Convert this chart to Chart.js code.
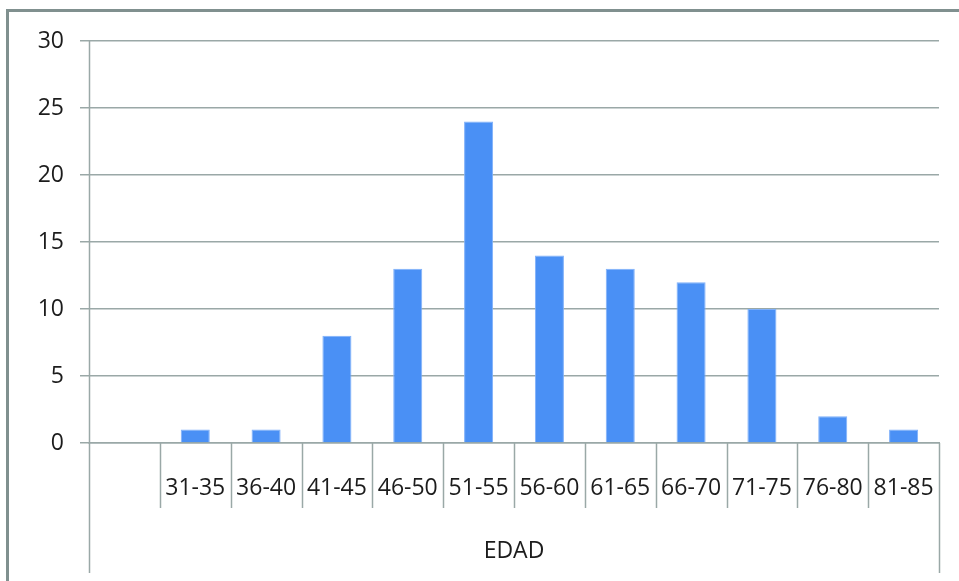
<!DOCTYPE html>
<html>
<head>
<meta charset="utf-8">
<script src="https://cdn.jsdelivr.net/npm/chart.js@4/dist/chart.umd.min.js"></script>
<style>
  html, body { margin: 0; padding: 0; background: #fff; overflow: hidden; }
  #wrap { position: relative; width: 959px; height: 581px; }
  #frame {
    position: absolute; left: 6px; top: 9px; width: 1000px; height: 700px;
    border: 3px solid #80908f; box-sizing: border-box; pointer-events: none;
  }
  canvas { position: absolute; left: 0; top: 0; }
</style>
</head>
<body>
<div id="wrap">
  <div id="frame"></div>
  <canvas id="chart" width="959" height="581"></canvas>
</div>
<script>
// Age groups (first slot is an empty category, as in the source sheet)
const categories = ['', '31-35', '36-40', '41-45', '46-50', '51-55', '56-60', '61-65', '66-70', '71-75', '76-80', '81-85'];
const counts = [null, 1, 1, 8, 13, 24, 14, 13, 12, 10, 2, 1];
const yTicks = [0, 5, 10, 15, 20, 25, 30];
const groupLabel = 'EDAD';

const gridColor = '#9aa8a7';
const textColor = '#1c1c1c';
const fontFamily = '"Open Sans", "Liberation Sans", sans-serif';

// Draws the category separators and the outer group box of the two-level axis
const axisBoxes = {
  id: 'axisBoxes',
  afterDraw(chart) {
    const x = chart.scales.x;
    const ctx = chart.ctx;
    const n = categories.length;
    const top = x.top;
    ctx.save();
    ctx.strokeStyle = gridColor;
    ctx.lineWidth = 1.5;
    for (let i = 0; i <= n; i++) {
      const px = Math.round(x.getPixelForValue(i - 0.5)) + 0.5;
      const outer = (i === 0 || i === n);
      ctx.beginPath();
      ctx.moveTo(px, i === 0 ? chart.chartArea.top : top);
      ctx.lineTo(px, outer ? 573 : 508);
      ctx.stroke();
    }
    ctx.restore();
  }
};

new Chart(document.getElementById('chart'), {
  type: 'bar',
  data: {
    labels: categories,
    datasets: [{
      data: counts,
      backgroundColor: '#4a90f5',
      borderColor: '#7fb0fa',
      borderWidth: 1,
      barPercentage: 0.41,
      categoryPercentage: 1.0
    }]
  },
  options: {
    responsive: false,
    animation: false,
    layout: { padding: { left: 0, right: 20, top: 41, bottom: 0 } },
    plugins: {
      legend: { display: false },
      tooltip: { enabled: false }
    },
    scales: {
      x: {
        offset: true,
        border: { display: true, color: gridColor, width: 1.5 },
        grid: { display: false, drawTicks: false },
        ticks: {
          color: textColor,
          font: { family: fontFamily, size: 23 },
          padding: 32,
          maxRotation: 0,
          autoSkip: false
        },
        title: {
          display: true,
          text: groupLabel,
          color: textColor,
          font: { family: fontFamily, size: 23 },
          padding: { top: 0, bottom: 16 }
        },
        afterFit(scale) {
          scale.height = 138;
          scale.paddingLeft = 0;
          scale.paddingRight = 0;
        }
      },
      y: {
        min: 0,
        max: 30,
        border: { display: false },
        grid: {
          color: gridColor,
          lineWidth: 1.5,
          tickLength: 9,
          tickColor: gridColor
        },
        afterBuildTicks(scale) { scale.ticks = yTicks.map(v => ({ value: v })); },
        ticks: {
          color: textColor,
          font: { family: fontFamily, size: 23 },
          padding: 16
        },
        afterFit(scale) { scale.width = 89; }
      }
    }
  },
  plugins: [axisBoxes]
});
</script>
</body>
</html>
